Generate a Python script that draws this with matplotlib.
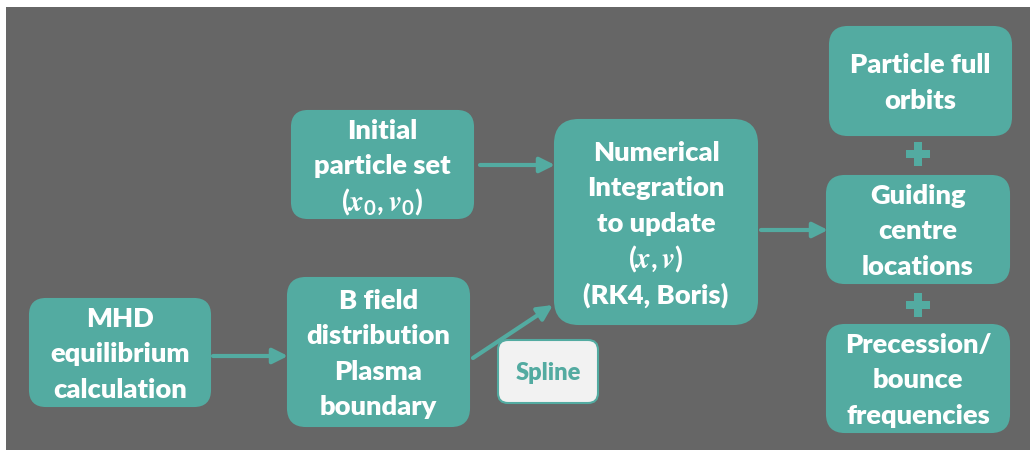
import matplotlib
matplotlib.use("Agg")
import matplotlib.pyplot as plt
from matplotlib.patches import FancyBboxPatch, FancyArrowPatch, Rectangle

BG = "#666666"
TEAL = "#53aba1"

# boxes: lines of label, (x0, y0, x1, y1) in pixel coords
box_labels = [
    ["MHD", "equilibrium", "calculation"],
    ["B field", "distribution", "Plasma", "boundary"],
    ["Initial", "particle set", r"$(x_0, v_0)$"],
    ["Numerical", "Integration", "to update", r"$(x, v)$", "(RK4, Boris)"],
    ["Particle full", "orbits"],
    ["Guiding", "centre", "locations"],
    ["Precession/", "bounce", "frequencies"],
]
box_rects = [
    (30, 300, 210, 407),
    (288, 279, 469, 427),
    (292, 112, 473, 219),
    (555, 121, 757, 325),
    (830, 28, 1011, 136),
    (827, 177, 1009, 284),
    (827, 326, 1009, 433),
]
box_radius = [16, 18, 16, 24, 18, 18, 18]
spline_label = "Spline"
spline_rect = (498, 341, 598, 404)

arrows = [
    ((480, 166), (555, 166)),
    ((213, 357), (288, 357)),
    ((473, 359), (553, 306)),
    ((761, 231), (828, 231)),
]
plus_centres = [(918, 155), (918, 306)]

plt.rcParams["mathtext.fontset"] = "custom"
plt.rcParams["mathtext.rm"] = "Lato:bold"
plt.rcParams["mathtext.it"] = "STIXGeneral:italic:bold"
plt.rcParams["mathtext.bf"] = "Lato:bold"

fig = plt.figure(figsize=(10.30, 4.52), dpi=100)
fig.patch.set_facecolor("white")
ax = fig.add_axes([0, 0, 1, 1])
ax.set_xlim(0, 1030)
ax.set_ylim(452, 0)
ax.axis("off")

ax.add_patch(Rectangle((6, 8), 1030 - 6, 452 - 8 - 1, facecolor=BG, edgecolor="none"))

FONT = "Lato"
LINE = 35.5


def rbox(rect, fc, ec, pad=16):
    x0, y0, x1, y1 = rect
    p = FancyBboxPatch((x0 + pad, y0 + pad), (x1 - x0) - 2 * pad, (y1 - y0) - 2 * pad,
                       boxstyle=f"round,pad={pad}", facecolor=fc, edgecolor=ec, linewidth=1.5)
    ax.add_patch(p)


for lines, rect, rad in zip(box_labels, box_rects, box_radius):
    rbox(rect, TEAL, TEAL, pad=rad)
    cx = (rect[0] + rect[2]) / 2
    cy = (rect[1] + rect[3]) / 2
    n = len(lines)
    for i, ln in enumerate(lines):
        y = cy + (i - (n - 1) / 2) * LINE
        if ln.startswith("$"):
            ax.text(cx, y + 1, ln, ha="center", va="center", color="white", fontsize=21)
        else:
            ax.text(cx, y + 1, ln, ha="center", va="center", color="white", fontsize=19.6,
                    fontweight="heavy", family=FONT)

rbox(spline_rect, "#f2f2f2", TEAL, pad=10)
ax.text((spline_rect[0] + spline_rect[2]) / 2, (spline_rect[1] + spline_rect[3]) / 2 + 1,
        spline_label, ha="center", va="center", color=TEAL, fontsize=17,
        fontweight="heavy", family=FONT)

for (s, e) in arrows:
    a = FancyArrowPatch(s, e, arrowstyle="-|>,head_length=9,head_width=4.5",
                        color=TEAL, linewidth=3, shrinkA=0, shrinkB=0, mutation_scale=1)
    ax.add_patch(a)

for (px, py) in plus_centres:
    ax.add_patch(Rectangle((px - 12, py - 4), 24, 8, facecolor=TEAL, edgecolor="none"))
    ax.add_patch(Rectangle((px - 4, py - 12), 8, 24, facecolor=TEAL, edgecolor="none"))

fig.savefig("out.png", dpi=100, facecolor="white")
